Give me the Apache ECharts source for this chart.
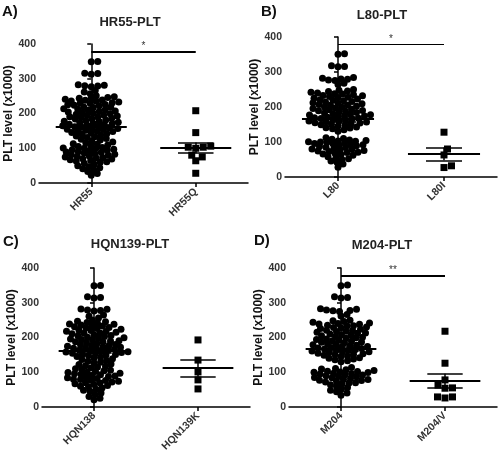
<!DOCTYPE html>
<html>
<head>
<meta charset="utf-8">
<script src="https://cdn.jsdelivr.net/npm/echarts@6/dist/echarts.min.js"></script>
<style>
  html, body { margin: 0; padding: 0; background: #fff; }
  #chart { width: 501px; height: 456px; }
</style>
</head>
<body>
<div id="chart"></div>
<script>
// panel titles and group names
const panelLabels = ['A)', 'B)', 'C)', 'D)'];
const panelTitles = ['HR55-PLT', 'L80-PLT', 'HQN139-PLT', 'M204-PLT'];
const groupNames = [['HR55', 'HR55Q'], ['L80', 'L80I'], ['HQN138', 'HQN139K'], ['M204', 'M204/V']];
const sigMarks = ['*', '*', '', '**'];
const yTicks = [0, 100, 200, 300, 400];

// PLT values (x1000)
const hr55 = [350, 349, 316, 313, 315, 283, 281, 279, 277, 280, 266, 262, 257, 251, 248, 246, 244, 243, 241,
  239, 238, 236, 235, 233, 231, 230, 229, 226, 225, 224, 222, 219,
  218, 217, 214, 213, 211, 209, 207, 206, 204, 203, 201,
  199, 198, 196, 195, 193, 191, 190, 189, 186, 185, 184, 181,
  179, 178, 177, 175, 174, 172, 171, 169, 168, 166, 165, 163, 162, 161,
  159, 158, 157, 155, 154, 152, 150, 149, 148, 145, 144, 142, 140,
  138, 135, 133, 131, 128, 126, 124, 121,
  118, 116, 113, 112, 109, 107, 105, 102, 101, 100,
  99, 97, 96, 94, 93, 91, 89, 88, 86, 85, 83, 81, 80,
  78, 77, 75, 73, 72, 70, 69, 67, 65, 63, 61, 60,
  57, 54, 50, 47, 44, 41, 38, 33, 27, 22];
const hr55q = [208, 145, 106, 103, 103, 100, 80, 75, 64, 28];

const l80 = [352, 351, 318, 316, 315, 284, 282, 280, 279, 277, 276, 268, 264, 250, 248, 246, 244, 242, 240,
  238, 237, 235, 233, 232, 230, 228, 227, 225, 223, 221, 219,
  218, 216, 214, 212, 211, 209, 207, 206, 205, 202, 200,
  199, 197, 196, 194, 192, 190, 189, 188, 186, 184, 183, 181,
  179, 178, 177, 175, 174, 173, 171, 169, 168, 167, 166, 164, 162, 160,
  159, 158, 157, 155, 154, 153, 151, 149, 148, 146, 143, 141, 140,
  138, 135, 131,
  112, 110, 108, 106, 104, 103, 102, 101, 100,
  99, 97, 96, 95, 93, 92, 90, 89, 87, 85, 84, 82, 80,
  79, 77, 76, 74, 73, 71, 70, 68, 66, 64, 62,
  58, 55, 52, 50, 46, 42, 37, 28];
const l80i = [128, 80, 63, 32, 27];

const hqn138 = [350, 349, 317, 314, 315, 282, 281, 279, 278, 276, 265, 261, 256, 250, 247, 245, 243, 241,
  239, 238, 236, 234, 233, 231, 229, 228, 226, 224, 221, 220,
  218, 217, 215, 213, 212, 211, 208, 206, 205, 203, 201,
  199, 198, 196, 194, 193, 191, 190, 188, 187, 185, 183, 180,
  179, 177, 176, 175, 173, 172, 170, 169, 168, 166, 164, 163, 162, 160,
  159, 158, 157, 155, 154, 152, 151, 150, 148, 145, 143, 141,
  139, 137, 134, 132, 129, 127, 124, 122,
  119, 117, 115, 112, 110, 108, 106, 104, 102, 100,
  99, 97, 96, 94, 93, 91, 89, 88, 86, 84, 82, 80,
  79, 77, 76, 74, 72, 70, 69, 67, 65, 62, 60,
  58, 55, 51, 48, 45, 40, 36, 30, 25, 21];
const hqn139k = [193, 135, 101, 78, 52];

const m204 = [351, 349, 317, 315, 314, 283, 281, 279, 278, 277, 275, 266, 262, 250, 248, 246, 244, 242, 240,
  239, 238, 235, 234, 233, 230, 229, 228, 226, 224, 221, 220,
  218, 217, 215, 213, 212, 210, 208, 207, 205, 203, 201,
  199, 198, 196, 194, 192, 191, 189, 187, 186, 185, 182, 180,
  179, 178, 176, 174, 173, 171, 170, 168, 167, 165, 164, 163, 161,
  159, 158, 157, 155, 153, 152, 151, 149, 147, 145, 142, 140,
  138, 136, 133, 130,
  114, 111, 109, 107, 105, 103, 102, 101, 100,
  99, 97, 96, 95, 93, 92, 90, 88, 87, 85, 84, 82, 80,
  79, 77, 76, 74, 72, 70, 69, 67, 64, 60,
  56, 52, 48, 44, 40, 34];
const m204v = [218, 126, 78, 63, 55, 54, 29, 29, 26];

const groups = [[hr55, hr55q], [l80, l80i], [hqn138, hqn139k], [m204, m204v]];

// plot areas of the four panels
const grids = [
  { left: 39, top: 44, width: 209, height: 139 },
  { left: 285, top: 37, width: 212, height: 140 },
  { left: 42, top: 268, width: 208, height: 139 },
  { left: 289, top: 268, width: 208, height: 139 }
];
const labelPos = [[2, 4], [261, 4], [3, 234], [254, 233]];
const titlePos = [[130, 16], [382, 9], [130, 238], [382, 239]];

// deterministic beeswarm: nudge each dot sideways until it clears the others
// (elliptic clearance, a bit wider than tall)
function swarm(vals, center, pxX, pxY, rx, ry) {
  const sorted = vals.slice().sort((a, b) => a - b);
  const placed = [];
  return sorted.map(v => {
    const y = v * pxY;
    let off = 0;
    for (let k = 0; k < 800; k++) {
      const cand = (k % 2 ? 1 : -1) * Math.ceil(k / 2) * 0.5;
      if (placed.every(p => ((p.x - cand) / rx) ** 2 + ((p.y - y) / ry) ** 2 >= 1)) { off = cand; break; }
    }
    placed.push({ x: off, y: y });
    return [center + off / pxX, v];
  });
}

function stats(vals) {
  const n = vals.length;
  const m = vals.reduce((a, b) => a + b, 0) / n;
  const sd = Math.sqrt(vals.reduce((a, b) => a + (b - m) ** 2, 0) / (n - 1));
  return { mean: m, sem: sd / Math.sqrt(n) };
}

function meanLines(vals, c) {
  const s = stats(vals);
  const top = s.mean + s.sem, bot = s.mean - s.sem;
  return [
    [{ coord: [c - 0.34, s.mean], lineStyle: { width: 2 } }, { coord: [c + 0.34, s.mean] }],
    [{ coord: [c - 0.17, top], lineStyle: { width: 1.5 } }, { coord: [c + 0.17, top] }],
    [{ coord: [c - 0.17, bot], lineStyle: { width: 1.5 } }, { coord: [c + 0.17, bot] }],
    [{ coord: [c, bot], lineStyle: { width: 1.5 } }, { coord: [c, top] }]
  ];
}

const font = 'Liberation Sans, Arial, sans-serif';
const titles = [], xAxes = [], yAxes = [], series = [], gridOpts = [];

grids.forEach((g, i) => {
  gridOpts.push(Object.assign({ outerBoundsMode: 'none', containLabel: false }, g));
  titles.push({
    text: panelLabels[i], left: labelPos[i][0], top: labelPos[i][1], padding: 0,
    textStyle: { fontFamily: font, fontSize: 15, fontWeight: 'bold', color: '#111' }
  });
  titles.push({
    text: panelTitles[i], left: titlePos[i][0], top: titlePos[i][1], textAlign: 'center', padding: 0,
    textStyle: { fontFamily: font, fontSize: 13, fontWeight: 'bold', color: '#222' }
  });
  const names = groupNames[i];
  xAxes.push({
    type: 'value', gridIndex: i, min: -0.5, max: 1.5,
    splitLine: { show: false },
    axisLine: { lineStyle: { color: '#000', width: 1.5 } },
    axisTick: { customValues: [0, 1], length: 4, lineStyle: { color: '#000', width: 1.5 } },
    axisLabel: {
      customValues: [0, 1], rotate: 45, margin: 7,
      formatter: v => names[Math.round(v)] || '',
      fontFamily: font, fontSize: 10.5, fontWeight: 'bold', color: '#333'
    }
  });
  yAxes.push({
    type: 'value', gridIndex: i, min: 0, max: 400, interval: 100,
    name: 'PLT level (x1000)', nameLocation: 'middle', nameGap: 24,
    nameTextStyle: { fontFamily: font, fontSize: 12, fontWeight: 'bold', color: '#111' },
    splitLine: { show: false },
    axisLine: { show: true, lineStyle: { color: '#000', width: 1.5 } },
    axisTick: { show: true, length: 4, lineStyle: { color: '#000', width: 1.5 } },
    axisLabel: {
      margin: 3, fontFamily: font, fontSize: 10.5, fontWeight: 'bold', color: '#333',
      formatter: v => yTicks.includes(v) ? String(v) : ''
    }
  });

  const pxX = g.width / 2, pxY = g.height / 400;
  const [big, small] = groups[i];
  const bigLines = meanLines(big, 0);
  if (sigMarks[i]) {
    bigLines.push([
      { coord: [0, 378], lineStyle: { width: i === 1 ? 1 : 2 },
        label: { show: true, position: 'middle', formatter: sigMarks[i], distance: 0,
                 fontSize: 10, color: '#333', fontFamily: font } },
      { coord: [1, 378] }
    ]);
  }
  series.push({
    type: 'scatter', xAxisIndex: i, yAxisIndex: i,
    symbol: 'circle', symbolSize: 7,
    itemStyle: { color: '#000', opacity: 1 },
    data: swarm(big, 0, pxX, pxY, 6.2, 4.6),
    markLine: {
      silent: true, symbol: ['none', 'none'], animation: false,
      label: { show: false },
      lineStyle: { color: '#000', type: 'solid', opacity: 1 },
      data: bigLines
    }
  });
  series.push({
    type: 'scatter', xAxisIndex: i, yAxisIndex: i,
    symbol: 'rect', symbolSize: 7,
    itemStyle: { color: '#000', opacity: 1 },
    data: swarm(small, 1, pxX, pxY, 7.5, 6.5),
    markLine: {
      silent: true, symbol: ['none', 'none'], animation: false,
      label: { show: false },
      lineStyle: { color: '#000', type: 'solid', opacity: 1 },
      data: meanLines(small, 1)
    }
  });
});

const chart = echarts.init(document.getElementById('chart'));
chart.setOption({
  animation: false,
  backgroundColor: '#fff',
  title: titles,
  grid: gridOpts,
  xAxis: xAxes,
  yAxis: yAxes,
  series: series
});
</script>
</body>
</html>
